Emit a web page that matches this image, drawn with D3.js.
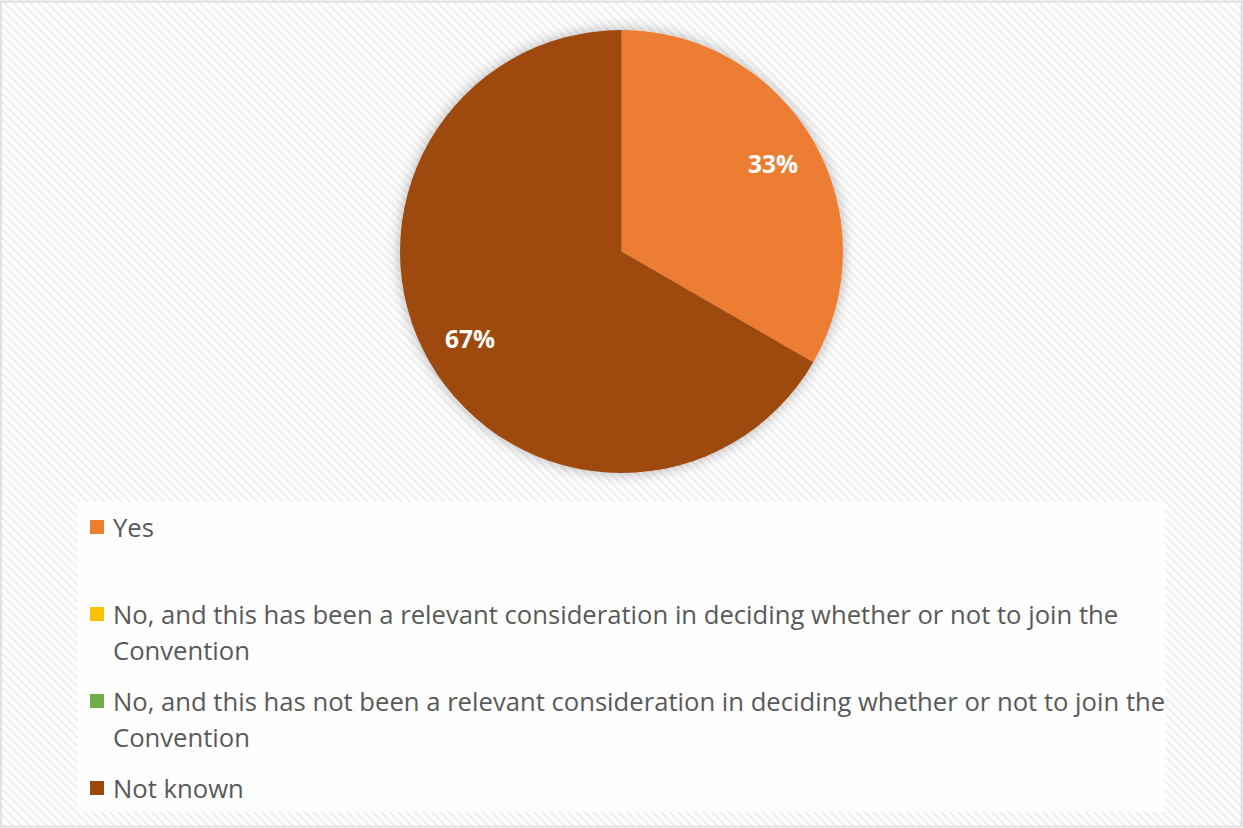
<!DOCTYPE html>
<html>
<head>
<meta charset="utf-8">
<script src="https://cdn.jsdelivr.net/npm/d3@7"></script>
<style>
  html, body { margin: 0; padding: 0; background: #fff; }
  svg { display: block; }
</style>
</head>
<body>
<svg id="chart" width="1243" height="828"></svg>
<script>
// Survey answers and their counts
const categories = [
  "Yes",
  "No, and this has been a relevant consideration in deciding whether or not to join the Convention",
  "No, and this has not been a relevant consideration in deciding whether or not to join the Convention",
  "Not known"
];
const values = [1, 0, 0, 2];
const colors = ["#ED7D31", "#FFC000", "#70AD47", "#9E480E"];

const W = 1243, H = 828;
const svg = d3.select("#chart");
const defs = svg.append("defs");

// diagonal stripe texture for the chart area
const pat = defs.append("pattern")
  .attr("id", "stripes")
  .attr("patternUnits", "userSpaceOnUse")
  .attr("width", 6).attr("height", 6)
  .attr("patternTransform", "rotate(-45)");
pat.append("rect").attr("width", 6).attr("height", 6).attr("fill", "#ffffff");
pat.append("rect").attr("width", 2.5).attr("height", 6).attr("fill", "#f0f0f0");

// soft glow behind the pie
const f = defs.append("filter").attr("id", "glow")
  .attr("x", "-20%").attr("y", "-20%").attr("width", "140%").attr("height", "140%");
f.append("feDropShadow")
  .attr("dx", 0).attr("dy", 0).attr("stdDeviation", 7)
  .attr("flood-color", "#000").attr("flood-opacity", 0.3);

svg.append("rect").attr("x", 0).attr("y", 0).attr("width", W).attr("height", H)
  .attr("fill", "url(#stripes)");
svg.append("rect").attr("x", 1).attr("y", 1.5).attr("width", W - 2.5).attr("height", H - 3)
  .attr("fill", "none").attr("stroke", "#d9d9d9").attr("stroke-width", 1.5);

// pie
const cx = 621.5, cy = 251.5, r = 221.5;
const total = d3.sum(values);
const pie = d3.pie().sort(null).value(d => d)(values);
const arc = d3.arc().innerRadius(0).outerRadius(r);
const labelArc = d3.arc().innerRadius(r * 0.79).outerRadius(r * 0.79);

const g = svg.append("g").attr("transform", `translate(${cx},${cy})`);
g.append("g").attr("filter", "url(#glow)")
  .selectAll("path").data(pie).join("path")
  .attr("d", arc)
  .attr("fill", (d, i) => colors[i]);

g.selectAll("text").data(pie.filter(d => d.value > 0)).join("text")
  .attr("transform", d => `translate(${labelArc.centroid(d)})`)
  .attr("text-anchor", "middle")
  .attr("dy", "0.36em")
  .attr("fill", "#fff")
  .attr("font-family", "'Open Sans', 'Noto Sans', sans-serif")
  .attr("font-weight", "bold")
  .attr("font-size", 24.5)
  .text(d => Math.round(d.value / total * 100) + "%");

// legend
const legend = svg.append("g");
legend.append("rect")
  .attr("x", 78).attr("y", 502).attr("width", 1087).attr("height", 310)
  .attr("fill", "#fff").attr("fill-opacity", 0.85);

const lineStarts = [537, 624, 711, 798];
const lineH = 36;
const textX = 113, maxW = 1060;
const fontSize = 25.65;

categories.forEach((c, i) => {
  const y0 = lineStarts[i];
  legend.append("rect")
    .attr("x", 90).attr("y", y0 - 17).attr("width", 14).attr("height", 14)
    .attr("fill", colors[i]);
  const t = legend.append("text")
    .attr("x", textX).attr("y", y0)
    .attr("fill", "#595959")
    .attr("font-family", "'Open Sans', 'Noto Sans', sans-serif")
    .attr("font-size", fontSize);
  // greedy word wrap
  const words = c.split(" ");
  let line = [], lineNo = 0;
  let ts = t.append("tspan").attr("x", textX).attr("y", y0);
  words.forEach(w => {
    line.push(w);
    ts.text(line.join(" "));
    if (ts.node().getComputedTextLength() > maxW && line.length > 1) {
      line.pop();
      ts.text(line.join(" "));
      line = [w];
      lineNo++;
      ts = t.append("tspan").attr("x", textX).attr("y", y0 + lineNo * lineH).text(w);
    }
  });
});
</script>
</body>
</html>
